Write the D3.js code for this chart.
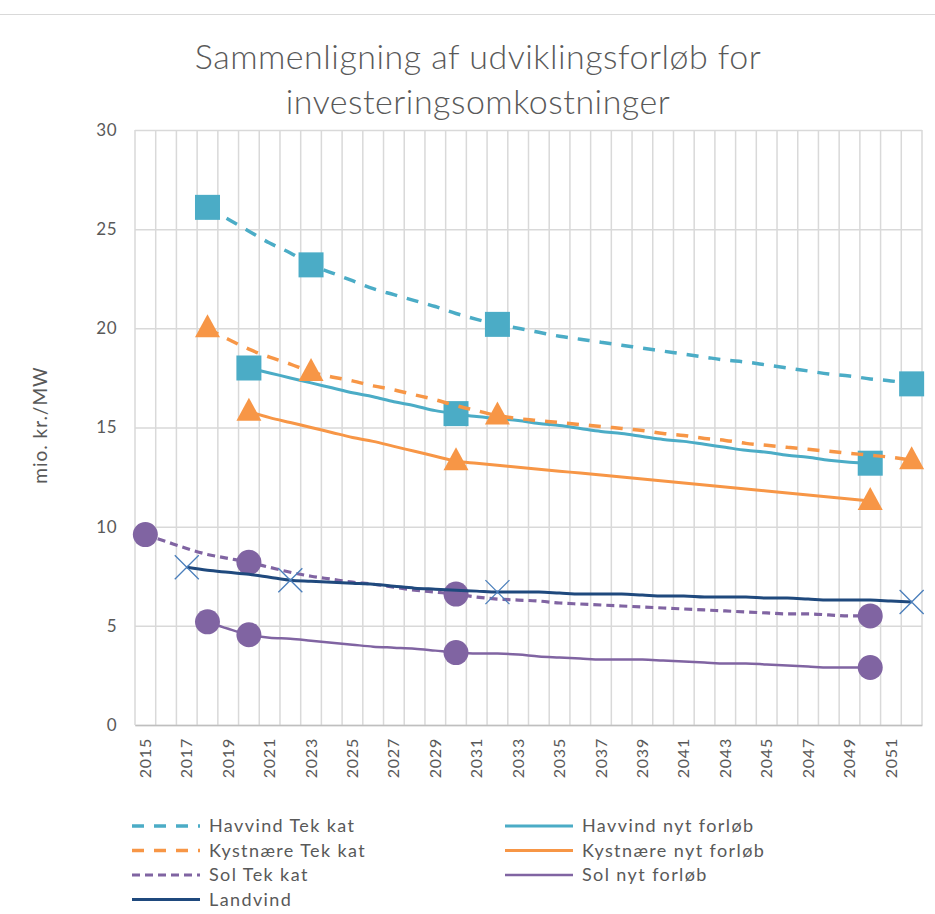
<!DOCTYPE html>
<html>
<head>
<meta charset="utf-8">
<script src="https://cdn.jsdelivr.net/npm/d3@7"></script>
<style>
  body { margin: 0; background: #fff; }
  text { font-family: Lato, "Open Sans", sans-serif; fill: #595959; }
</style>
</head>
<body>
<div id="chart"></div>
<script>
// Data (mio. kr./MW)
var years = d3.range(2015, 2053);
var tickYears = d3.range(2015, 2052, 2);
var yTicks = [0, 5, 10, 15, 20, 25, 30];

var havvindTekYears = d3.range(2018, 2053);
var havvindTek = [26.1, 25.5, 24.9, 24.3, 23.8, 23.2, 22.8, 22.4, 22.0, 21.7, 21.4, 21.1, 20.75, 20.45, 20.2,
    20.0, 19.8, 19.6, 19.45, 19.3, 19.15, 19.0, 18.85, 18.7, 18.55, 18.4, 18.3, 18.15, 18.0, 17.85, 17.7, 17.6, 17.45, 17.35, 17.2];
var havvindTekMarks = [2018, 2023, 2032, 2052];

var havvindNytYears = d3.range(2020, 2051);
var havvindNyt = [18.0, 17.75, 17.5, 17.25, 17.0, 16.75, 16.55, 16.3, 16.1, 15.85, 15.7, 15.55, 15.45, 15.35, 15.2, 15.1,
    14.95, 14.8, 14.7, 14.55, 14.4, 14.3, 14.15, 14.0, 13.85, 13.75, 13.6, 13.5, 13.35, 13.25, 13.2];
var havvindNytMarks = [2020, 2030, 2050];

var kystTekYears = d3.range(2018, 2053);
var kystTek = [20.0, 19.45, 18.95, 18.55, 18.2, 17.8, 17.55, 17.35, 17.1, 16.9, 16.65, 16.4, 16.1, 15.85, 15.6,
    15.45, 15.35, 15.25, 15.15, 15.05, 14.95, 14.85, 14.7, 14.6, 14.45, 14.35, 14.2, 14.1, 14.0, 13.9, 13.8, 13.7, 13.6, 13.5, 13.35];
var kystTekMarks = [2018, 2023, 2032, 2052];

var kystNytYears = d3.range(2020, 2051);
var kystNyt = [15.8, 15.5, 15.25, 15.0, 14.75, 14.5, 14.3, 14.05, 13.8, 13.55, 13.3, 13.2, 13.1, 13.0, 12.9, 12.8,
    12.7, 12.6, 12.5, 12.4, 12.3, 12.2, 12.1, 12.0, 11.9, 11.8, 11.7, 11.6, 11.5, 11.4, 11.3];
var kystNytMarks = [2020, 2030, 2050];

var solTekYears = d3.range(2015, 2051);
var solTek = [9.6, 9.25, 8.9, 8.6, 8.4, 8.2, 7.95, 7.7, 7.5, 7.35, 7.2, 7.1, 6.95, 6.8, 6.7, 6.6, 6.45, 6.35,
    6.3, 6.25, 6.15, 6.1, 6.05, 6.0, 5.95, 5.9, 5.85, 5.8, 5.75, 5.7, 5.65, 5.6, 5.6, 5.55, 5.5, 5.5];
var solTekMarks = [2015, 2020, 2030, 2050];

var solNytYears = d3.range(2018, 2051);
var solNyt = [5.2, 4.85, 4.55, 4.4, 4.35, 4.25, 4.15, 4.05, 3.95, 3.9, 3.85, 3.75, 3.65, 3.6, 3.6, 3.55, 3.45,
    3.4, 3.35, 3.3, 3.3, 3.3, 3.25, 3.2, 3.15, 3.1, 3.1, 3.05, 3.0, 2.95, 2.9, 2.9, 2.9];
var solNytMarks = [2018, 2020, 2030, 2050];

var landvindYears = d3.range(2017, 2053);
var landvind = [7.95, 7.8, 7.7, 7.6, 7.45, 7.3, 7.25, 7.2, 7.15, 7.1, 7.0, 6.9, 6.85, 6.8, 6.75, 6.7, 6.7, 6.7,
    6.65, 6.6, 6.6, 6.6, 6.55, 6.5, 6.5, 6.45, 6.45, 6.45, 6.4, 6.4, 6.35, 6.3, 6.3, 6.3, 6.25, 6.2];
var landvindMarks = [2017, 2022, 2032, 2052];

var seriesNames = ["Havvind Tek kat", "Havvind nyt forløb", "Kystnære Tek kat", "Kystnære nyt forløb",
    "Sol Tek kat", "Sol nyt forløb", "Landvind"];

// series table built from the arrays above
var series = [
    { name: seriesNames[0], years: havvindTekYears, values: havvindTek, marks: havvindTekMarks, color: "#4BACC6", width: 3.5, dash: "12,10", marker: "square" },
    { name: seriesNames[1], years: havvindNytYears, values: havvindNyt, marks: havvindNytMarks, color: "#4BACC6", width: 3, dash: null, marker: "square" },
    { name: seriesNames[2], years: kystTekYears, values: kystTek, marks: kystTekMarks, color: "#F79646", width: 3.5, dash: "12,10", marker: "triangle" },
    { name: seriesNames[3], years: kystNytYears, values: kystNyt, marks: kystNytMarks, color: "#F79646", width: 3, dash: null, marker: "triangle" },
    { name: seriesNames[4], years: solTekYears, values: solTek, marks: solTekMarks, color: "#8064A2", width: 3.2, dash: "8,5", marker: "circle" },
    { name: seriesNames[5], years: solNytYears, values: solNyt, marks: solNytMarks, color: "#8064A2", width: 2.5, dash: null, marker: "circle" },
    { name: seriesNames[6], years: landvindYears, values: landvind, marks: landvindMarks, color: "#1F497D", width: 3, dash: null, marker: "x" }
];

var W = 935, H = 914;
var plot = { left: 135, right: 922, top: 130, bottom: 725 };

var svg = d3.select("#chart")
    .append("svg")
    .attr("width", W)
    .attr("height", H);

// outer border line
svg.append("line")
    .attr("x1", 0).attr("x2", W)
    .attr("y1", 14.5).attr("y2", 14.5)
    .attr("stroke", "#d9d9d9");

// Title
var title = svg.append("text")
    .attr("text-anchor", "middle")
    .style("font-size", "34px")
    .style("font-weight", "300")
    .style("letter-spacing", "0.5px");
title.append("tspan").attr("x", 478).attr("y", 69).text("Sammenligning af udviklingsforløb for");
title.append("tspan").attr("x", 478).attr("y", 114).text("investeringsomkostninger");

// Scales
var x = d3.scaleBand()
    .domain(years)
    .range([plot.left, plot.right])
    .padding(0);
var y = d3.scaleLinear()
    .domain([0, 30])
    .range([plot.bottom, plot.top]);

function cx(yr) { return x(yr) + x.bandwidth() / 2; }

// horizontal gridlines + y labels
var yAxis = svg.append("g")
    .attr("transform", "translate(" + plot.left + ",0)")
    .call(d3.axisLeft(y).tickValues(yTicks).tickSize(-(plot.right - plot.left)).tickPadding(18));
yAxis.select(".domain").remove();
yAxis.selectAll(".tick line").attr("stroke", "#d9d9d9").attr("stroke-width", 1.5);
yAxis.selectAll(".tick text").style("font-size", "17px").style("font-family", "Lato, sans-serif")
    .style("letter-spacing", "0.5px").attr("fill", "#595959");

// vertical gridlines between categories
var vx = years.map(function (d) { return x(d); }).concat([plot.right]);
svg.append("g").selectAll("line")
    .data(vx)
    .enter()
    .append("line")
    .attr("x1", function (d) { return d; })
    .attr("x2", function (d) { return d; })
    .attr("y1", plot.top)
    .attr("y2", plot.bottom)
    .attr("stroke", "#d9d9d9")
    .attr("stroke-width", 1.5);

// x axis
var xAxis = svg.append("g")
    .attr("transform", "translate(0," + plot.bottom + ")")
    .call(d3.axisBottom(x).tickValues(tickYears).tickSize(0));
xAxis.select(".domain").attr("stroke", "#bfbfbf").attr("stroke-width", 1.5);
xAxis.selectAll(".tick text")
    .style("font-size", "16px")
    .style("font-family", "Lato, sans-serif")
    .style("letter-spacing", "0.8px")
    .attr("fill", "#595959")
    .attr("text-anchor", "end")
    .attr("transform", "rotate(-90)")
    .attr("x", -13)
    .attr("y", 0)
    .attr("dy", "0.35em");

// y axis title
svg.append("text")
    .attr("transform", "translate(47,425) rotate(-90)")
    .attr("text-anchor", "middle")
    .style("font-size", "19px")
    .style("letter-spacing", "1px")
    .text("mio. kr./MW");

var line = d3.line()
    .x(function (d) { return cx(d.year); })
    .y(function (d) { return y(d.value); })
    .curve(d3.curveMonotoneX);

function drawMarker(g, s, yr, val) {
    var px = cx(yr), py = y(val);
    if (s.marker == "square") {
        g.append("rect").attr("x", px - 12.5).attr("y", py - 12.5).attr("width", 25).attr("height", 25).attr("fill", s.color);
    } else if (s.marker == "triangle") {
        g.append("path").attr("d", "M" + px + "," + (py - 14) + "L" + (px + 12.5) + "," + (py + 9) + "L" + (px - 12.5) + "," + (py + 9) + "Z").attr("fill", s.color);
    } else if (s.marker == "circle") {
        g.append("circle").attr("cx", px).attr("cy", py).attr("r", 12.5).attr("fill", s.color);
    } else {
        g.append("path")
            .attr("d", "M" + (px - 12) + "," + (py - 12) + "L" + (px + 12) + "," + (py + 12) + "M" + (px + 12) + "," + (py - 12) + "L" + (px - 12) + "," + (py + 12))
            .attr("stroke", "#4A7EBB").attr("stroke-width", 1.3).attr("fill", "none");
    }
}

series.forEach(function (s) {
    var pts = s.years.map(function (yr, i) { return { year: yr, value: s.values[i] }; });
    var g = svg.append("g");
    g.append("path")
        .datum(pts)
        .attr("d", line)
        .attr("fill", "none")
        .attr("stroke", s.color)
        .attr("stroke-width", s.width)
        .attr("stroke-dasharray", s.dash);
    s.marks.forEach(function (yr) {
        drawMarker(g, s, yr, s.values[s.years.indexOf(yr)]);
    });
});

// legend
var legend = svg.append("g");
series.forEach(function (s, i) {
    var col = i % 2, row = Math.floor(i / 2);
    var lx = col == 0 ? 132 : 505;
    var ly = 826 + row * 24.5;
    legend.append("line")
        .attr("x1", lx).attr("x2", lx + 68)
        .attr("y1", ly).attr("y2", ly)
        .attr("stroke", s.color)
        .attr("stroke-width", s.width)
        .attr("stroke-dasharray", s.dash);
    legend.append("text")
        .attr("x", lx + 77)
        .attr("y", ly)
        .attr("dy", "0.35em")
        .style("font-size", "18px")
        .style("letter-spacing", "1.4px")
        .text(s.name);
});
</script>
</body>
</html>
